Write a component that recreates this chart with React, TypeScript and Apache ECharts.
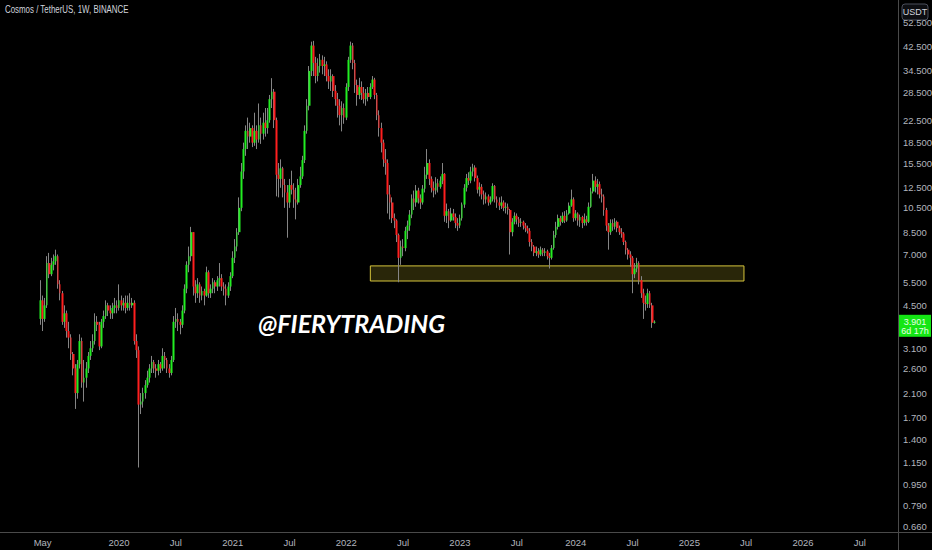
import { useEffect, useRef } from "react";
import * as echarts from "echarts";

// weekly ATOM/USDT candles, first one is the week of 2019-04-22
const axisStart = "2018-12-17";
const axisWeeks = 411;
const firstWeek = "2019-04-22";
const firstOpen = 4.0;

const closes = [
  4.7, 4.0, 4.5, 6.5, 5.9, 6.4, 6.6, 6.9, 5.4, 5.0,
  3.9, 4.2, 3.6, 3.4, 2.95, 2.6, 2.1, 2.7, 3.3, 2.3,
  2.4, 2.6, 2.9, 3.1, 3.3, 3.9, 3.8, 3.15, 3.9, 4.1,
  4.5, 4.3, 4.2, 4.4, 4.5, 4.4, 4.7, 4.5, 4.6, 4.4,
  4.6, 4.5, 4.6, 3.3, 3.05, 1.9, 1.95, 2.1, 2.25, 2.4,
  2.6, 2.75, 2.6, 2.55, 2.7, 2.6, 2.9, 2.8, 2.6, 2.5,
  2.8, 3.9, 4.0, 3.9, 3.8, 4.3, 5.2, 6.4, 6.9, 8.5,
  5.3, 5.0, 5.4, 4.9, 5.1, 4.9, 6.0, 5.0, 5.2, 5.5,
  5.3, 5.6, 5.7, 5.3, 5.2, 4.9, 5.3, 5.8, 6.8, 7.5,
  8.5, 10.5, 14.4, 17.5, 20.5, 19.5, 21.0, 18.5, 20.5, 19.0,
  21.5, 20.0, 22.0, 21.0, 22.5, 27.0, 28.8, 22.5, 14.0, 13.5,
  14.8, 12.8, 12.0, 11.0, 12.8, 12.3, 11.3, 11.0, 12.8, 13.8,
  15.9, 20.5, 25.5, 34.5, 43.0, 37.0, 33.0, 36.0, 38.0, 36.0,
  36.5, 33.0, 31.5, 33.0, 29.0, 27.0, 25.5, 23.5, 25.0, 23.0,
  30.0, 38.0, 43.0, 37.0, 30.5, 28.0, 30.0, 28.5, 27.0, 28.5,
  27.5, 30.0, 32.0, 28.0, 23.5, 21.0, 18.5, 16.0, 15.5, 11.8,
  11.0, 9.6, 9.4, 8.3, 6.8, 7.5, 7.4, 8.6, 9.0, 9.9,
  11.4, 11.0, 12.2, 11.4, 11.0, 12.4, 14.0, 15.5, 13.5, 12.5,
  12.2, 13.0, 12.6, 13.3, 14.1, 9.8, 10.2, 9.4, 10.0, 9.7,
  9.2, 9.0, 9.6, 10.8, 12.5, 13.6, 13.3, 14.4, 14.9, 13.6,
  12.3, 12.6, 11.8, 11.3, 11.6, 11.0, 11.3, 12.7, 11.3, 11.0,
  10.7, 11.0, 10.5, 10.6, 10.3, 8.5, 9.3, 9.8, 9.5, 9.2,
  9.3, 9.0, 8.8, 8.6, 7.8, 7.5, 7.1, 7.2, 7.0, 7.3,
  7.1, 7.2, 6.9, 6.8, 7.4, 8.3, 8.9, 9.6, 9.3, 9.8,
  9.4, 10.0, 10.7, 11.3, 9.6, 10.0, 9.4, 9.7, 9.2, 9.5,
  9.3, 10.6, 12.1, 13.3, 12.6, 12.9, 11.8, 11.6, 10.3, 9.0,
  8.5, 9.2, 8.9, 9.3, 8.8, 8.5, 8.4, 7.8, 7.3, 7.0,
  6.8, 5.9, 6.2, 6.5, 5.6, 5.0, 4.6, 4.55, 5.0, 4.5,
  3.87, 3.901,
];

const highs = [
  5.6, 4.9, 4.8, 6.9, 7.1, 6.8, 7.0, 7.3, 7.0, 5.6,
  5.1, 4.5, 4.3, 3.9, 3.5, 3.0, 2.7, 2.8, 3.5, 3.4,
  2.8, 2.75, 3.0, 3.3, 3.5, 4.2, 4.1, 3.9, 4.0, 4.3,
  4.7, 4.6, 4.5, 4.6, 4.8, 4.7, 5.4, 4.9, 4.8, 4.9,
  4.9, 5.0, 4.8, 4.7, 3.5, 3.15, 2.1, 2.2, 2.35, 2.55,
  2.7, 2.9, 2.8, 2.7, 2.8, 2.75, 3.1, 3.0, 2.85, 2.7,
  2.9, 4.1, 4.4, 4.2, 4.0, 4.5, 5.4, 6.6, 7.5, 8.9,
  8.4, 5.6, 5.7, 5.5, 5.3, 5.2, 6.3, 6.1, 5.4, 5.7,
  5.6, 5.8, 6.5, 5.9, 5.5, 5.4, 5.5, 6.0, 7.2, 8.0,
  8.8, 11.5, 15.5, 18.5, 21.5, 23.0, 22.0, 21.5, 24.0, 21.5,
  26.0, 23.0, 24.0, 25.0, 25.0, 28.0, 32.4, 29.5, 23.0, 15.5,
  16.0, 15.0, 13.5, 12.8, 13.5, 14.5, 13.0, 12.5, 13.5, 15.0,
  16.5, 21.5, 27.0, 36.0, 44.5, 44.8, 39.0, 38.5, 40.0, 39.5,
  39.0, 37.5, 35.0, 35.0, 33.5, 30.5, 28.5, 27.0, 26.5, 26.0,
  31.0, 39.0, 44.5, 44.0, 38.0, 32.0, 32.5, 31.5, 30.0, 29.5,
  30.0, 31.0, 33.0, 32.5, 28.5, 24.5, 22.0, 19.0, 17.5, 16.0,
  12.8, 11.5, 10.0, 9.5, 8.4, 7.9, 8.0, 8.9, 9.4, 10.3,
  11.8, 12.2, 12.8, 12.5, 11.8, 12.8, 15.0, 17.5, 16.0, 13.8,
  13.2, 13.7, 13.5, 13.8, 15.5, 14.2, 10.9, 10.4, 10.5, 10.4,
  10.0, 9.6, 9.9, 11.0, 12.9, 14.1, 14.3, 15.0, 15.4, 15.2,
  13.9, 13.1, 12.9, 12.2, 12.0, 11.8, 11.6, 13.0, 12.8, 11.6,
  11.5, 11.6, 11.2, 11.0, 10.9, 10.4, 9.6, 10.1, 10.0, 9.7,
  9.6, 9.4, 9.2, 9.0, 8.8, 8.0, 7.6, 7.5, 7.4, 7.5,
  7.4, 7.4, 7.3, 7.1, 7.6, 8.6, 9.3, 9.9, 9.8, 10.1,
  10.2, 10.3, 11.0, 12.3, 11.5, 10.3, 10.1, 9.9, 9.8, 10.0,
  9.8, 11.0, 12.5, 14.1, 13.8, 13.5, 13.2, 12.4, 11.8, 10.5,
  9.2, 9.5, 9.5, 9.6, 9.4, 9.0, 8.8, 8.5, 7.9, 7.4,
  7.2, 6.9, 6.5, 6.8, 6.6, 5.8, 5.2, 4.9, 5.2, 5.1,
  4.6, 3.95,
];

const lows = [
  3.8, 3.6, 3.9, 4.4, 5.7, 5.8, 6.1, 6.4, 5.2, 4.7,
  3.8, 3.7, 3.4, 3.1, 2.8, 2.45, 1.83, 2.0, 2.6, 2.2,
  1.95, 2.2, 2.5, 2.8, 3.0, 3.2, 3.6, 3.05, 3.1, 3.7,
  4.0, 4.1, 4.0, 4.0, 4.2, 4.2, 4.3, 4.3, 4.3, 4.2,
  4.3, 4.3, 4.4, 3.2, 2.85, 1.1, 1.75, 1.85, 2.0, 2.2,
  2.3, 2.5, 2.5, 2.4, 2.45, 2.5, 2.55, 2.6, 2.5, 2.4,
  2.45, 2.75, 3.7, 3.6, 3.5, 3.7, 4.2, 5.0, 6.0, 6.6,
  4.9, 4.6, 4.8, 4.6, 4.7, 4.5, 4.85, 4.8, 4.8, 5.0,
  5.0, 5.1, 5.3, 5.1, 4.9, 4.5, 4.8, 5.1, 5.7, 6.5,
  7.2, 8.3, 10.2, 13.5, 16.5, 17.5, 18.5, 17.8, 18.0, 17.5,
  18.5, 18.3, 19.0, 19.5, 20.0, 22.0, 25.0, 21.0, 11.6, 11.5,
  12.5, 11.5, 10.5, 8.1, 10.5, 11.8, 10.5, 9.5, 10.8, 12.5,
  13.5, 15.5, 20.0, 24.5, 33.0, 33.0, 31.0, 31.5, 34.0, 33.5,
  33.0, 31.5, 29.5, 29.0, 27.5, 25.5, 23.0, 21.5, 20.4, 21.8,
  22.5, 29.0, 37.0, 35.0, 28.5, 25.5, 27.0, 26.8, 26.0, 25.5,
  26.5, 27.0, 29.5, 27.0, 22.5, 19.5, 17.0, 15.0, 14.0, 10.0,
  9.5, 9.2, 8.8, 7.8, 5.5, 6.4, 6.9, 7.2, 8.0, 8.6,
  9.6, 10.3, 10.6, 10.9, 10.4, 10.8, 12.0, 13.5, 12.8, 12.0,
  11.5, 11.8, 12.0, 12.4, 12.9, 9.3, 9.2, 8.8, 9.3, 9.4,
  8.8, 8.6, 8.8, 9.4, 10.5, 12.1, 12.8, 13.0, 13.8, 13.2,
  11.9, 11.6, 11.3, 10.8, 10.9, 10.7, 10.8, 11.1, 11.0, 10.5,
  10.3, 10.4, 10.2, 10.0, 9.9, 7.0, 8.2, 9.1, 9.1, 8.9,
  8.9, 8.7, 8.5, 8.4, 7.5, 7.2, 6.9, 6.9, 6.8, 6.9,
  6.9, 6.9, 6.7, 6.2, 6.7, 7.3, 8.1, 8.7, 9.0, 9.2,
  9.2, 9.3, 9.9, 10.6, 9.3, 9.4, 9.0, 8.9, 8.8, 9.0,
  9.0, 9.2, 10.5, 11.9, 12.0, 11.8, 11.4, 11.0, 9.8, 8.6,
  7.3, 8.3, 8.6, 8.7, 8.5, 8.3, 8.1, 7.6, 7.0, 6.7,
  6.3, 5.0, 5.7, 6.0, 5.4, 4.8, 4.0, 4.3, 4.4, 4.4,
  3.7, 3.84,
];

const priceTicks = [
  52.5, 42.5, 34.5, 28.5, 22.5, 18.5, 15.5, 12.5, 10.5, 8.5, 7.0,
  5.5, 4.5, 3.1, 2.6, 2.1, 1.7, 1.4, 1.15, 0.95, 0.79, 0.66,
];
const priceMin = 0.628;
const priceMax = 63.9;

// support zone drawn in yellow
const zoneFrom = "2022-03-14";
const zoneTo = "2025-06-23";
const zoneTop = 6.34;
const zoneBottom = 5.56;

const lastPrice = 3.901;
const countdown = "6d 17h";
const title = "Cosmos / TetherUS, 1W, BINANCE";
const watermark = "@FIERYTRADING";

const DAY = 86400000;
const font = "'Liberation Sans', Arial, sans-serif";
const lineColor = "#4a4a4a";
const lg = Math.log10;

function buildWeeks() {
  const t0 = Date.parse(axisStart + "T00:00:00Z");
  const names: string[] = [];
  const labels: Record<string, string> = {};
  for (let k = 0; k < axisWeeks; k++) {
    const d = new Date(t0 + k * 7 * DAY);
    const e = new Date(t0 + (k * 7 + 6) * DAY);
    const name = d.toISOString().slice(0, 10);
    names.push(name);
    let m = -1;
    let y = 0;
    if (d.getUTCDate() === 1) {
      m = d.getUTCMonth();
      y = d.getUTCFullYear();
    } else if (e.getUTCMonth() !== d.getUTCMonth()) {
      m = e.getUTCMonth();
      y = e.getUTCFullYear();
    }
    if (y === 2019) {
      if (m === 4) labels[name] = "May";
    } else if (m === 0) labels[name] = String(y);
    else if (m === 6) labels[name] = "Jul";
  }
  return { names, labels };
}

export default function App() {
  const ref = useRef<HTMLDivElement>(null);

  useEffect(() => {
    const el = ref.current;
    if (!el) return;
    const chart = echarts.init(el, undefined, { renderer: "svg" });
    const { names, labels } = buildWeeks();
    const offset = names.indexOf(firstWeek);

    const wicks: number[][] = [];
    const bodies: number[][] = [];
    closes.forEach((c, i) => {
      const o = i === 0 ? firstOpen : closes[i - 1];
      const h = Math.max(highs[i], o, c);
      const l = Math.min(lows[i], o, c);
      const k = offset + i;
      wicks.push([k, lg(o), lg(c), lg(l), lg(h)]);
      bodies.push([k, lg(o), lg(c), lg(Math.min(o, c)), lg(Math.max(o, c))]);
    });

    chart.setOption({
      animation: false,
      backgroundColor: "#000000",
      grid: { left: 0, right: 34, top: 0, bottom: 18, outerBoundsMode: "none", containLabel: false },
      xAxis: {
        type: "category",
        data: names,
        boundaryGap: true,
        axisLine: { onZero: false, lineStyle: { color: lineColor } },
        axisTick: { show: false },
        splitLine: { show: false },
        axisLabel: {
          interval: (_i: number, v: string) => !!labels[v],
          formatter: (v: string) => labels[v] ?? "",
          color: "#b2b5be",
          fontSize: 9.5,
          fontFamily: font,
          margin: 5,
        },
      },
      yAxis: {
        type: "value",
        position: "right",
        min: lg(priceMin),
        max: lg(priceMax),
        axisLine: { show: true, onZero: false, lineStyle: { color: lineColor } },
        axisTick: { show: false },
        splitLine: { show: false },
        axisLabel: {
          customValues: priceTicks.map(lg),
          formatter: (v: number) => Math.pow(10, v).toFixed(3),
          color: "#b2b5be",
          fontSize: 9.5,
          fontFamily: font,
          margin: 5,
        },
      },
      series: [
        {
          name: "wicks",
          type: "candlestick",
          data: wicks,
          encode: { x: 0, y: [1, 2, 3, 4] },
          barWidth: 1,
          itemStyle: {
            color: "#858585",
            color0: "#858585",
            borderColor: "#858585",
            borderColor0: "#858585",
            borderWidth: 1,
          },
          markArea: {
            silent: true,
            itemStyle: {
              color: "rgba(255, 235, 59, 0.16)",
              borderColor: "#d6c43c",
              borderWidth: 1,
            },
            data: [[
              { xAxis: zoneFrom, yAxis: lg(zoneTop) },
              { xAxis: zoneTo, yAxis: lg(zoneBottom) },
            ]],
          },
        },
        {
          name: "bodies",
          type: "candlestick",
          data: bodies,
          encode: { x: 0, y: [1, 2, 3, 4] },
          barWidth: 2.2,
          itemStyle: {
            color: "#22ee22",
            color0: "#ff1f1f",
            borderColor: "#22ee22",
            borderColor0: "#ff1f1f",
            borderWidth: 0,
          },
        },
      ],
    });

    const py = chart.convertToPixel({ yAxisIndex: 0 }, lg(lastPrice)) as number;
    chart.setOption({
      graphic: [
        {
          type: "text",
          x: 5,
          y: 5,
          scaleX: 0.79,
          style: { text: title, fill: "#d1d4dc", fontSize: 10, fontFamily: font },
        },
        {
          type: "text",
          left: 258,
          top: 310,
          style: {
            text: watermark,
            fill: "#ffffff",
            fontSize: 25,
            fontWeight: "bold",
            fontStyle: "italic",
            fontFamily: "Lato, 'Open Sans', sans-serif",
          },
        },
        {
          type: "rect",
          shape: { x: 902, y: 4, width: 26, height: 16, r: 3 },
          style: { fill: "#0d0e12", stroke: "#4a4e5a", lineWidth: 1 },
        },
        {
          type: "text",
          x: 915,
          y: 12,
          style: {
            text: "USDT",
            fill: "#d1d4dc",
            fontSize: 9,
            fontFamily: font,
            align: "center",
            verticalAlign: "middle",
          },
        },
        {
          type: "line",
          shape: { x1: 898, y1: 532.5, x2: 932, y2: 532.5 },
          style: { stroke: lineColor, lineWidth: 1 },
        },
        {
          type: "line",
          shape: { x1: 898.5, y1: 532, x2: 898.5, y2: 550 },
          style: { stroke: lineColor, lineWidth: 1 },
        },
        {
          type: "rect",
          shape: { x: 899, y: py - 7, width: 32, height: 22 },
          style: { fill: "#14e614" },
        },
        {
          type: "text",
          x: 915,
          y: py,
          style: {
            text: lastPrice.toFixed(3),
            fill: "#e6ffe6",
            fontSize: 9,
            fontFamily: font,
            align: "center",
            verticalAlign: "middle",
          },
        },
        {
          type: "text",
          x: 915,
          y: py + 9,
          style: {
            text: countdown,
            fill: "#e6ffe6",
            fontSize: 9,
            fontFamily: font,
            align: "center",
            verticalAlign: "middle",
          },
        },
      ],
    });

    return () => {
      chart.dispose();
    };
  }, []);

  return (
    <div
      ref={ref}
      style={{ position: "fixed", left: 0, top: 0, width: 932, height: 550, background: "#000" }}
    />
  );
}
